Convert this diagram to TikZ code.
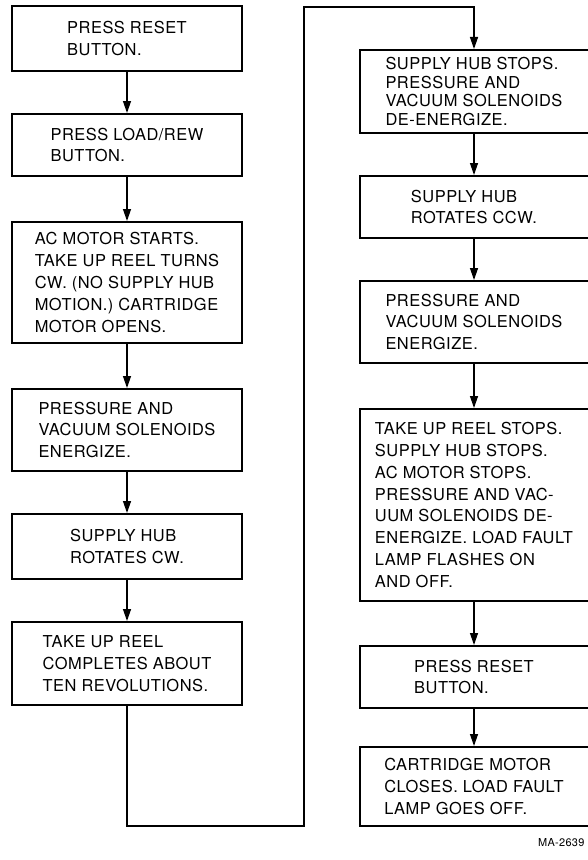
\documentclass[tikz,border=0pt]{standalone}
\usepackage{fontspec}
\setmainfont[LetterSpace=3]{TeX Gyre Heros}
\usetikzlibrary{arrows.meta}

\begin{document}
\begin{tikzpicture}[x=1bp,y=-1bp,
  stepbox/.style={draw,line width=2bp,minimum width=229bp,inner sep=0pt,align=left,font=\fontsize{16.5}{22}\selectfont},
  flow/.style={line width=1.3bp,-{Triangle[length=12bp,width=8bp]}}]
\useasboundingbox (0,0) rectangle (588,860);
\node[stepbox,minimum height=65bp] (l1) at (127,38.5) {PRESS RESET\\BUTTON.};
\node[stepbox,minimum height=62bp] (l2) at (127,145) {PRESS LOAD/REW\\BUTTON.};
\node[stepbox,minimum height=121bp] (l3) at (127,282.5) {AC MOTOR STARTS.\\TAKE UP REEL TURNS\\CW. (NO SUPPLY HUB\\MOTION.) CARTRIDGE\\MOTOR OPENS.};
\node[stepbox,minimum height=82bp] (l4) at (127,430) {PRESSURE AND\\VACUUM SOLENOIDS\\ENERGIZE.};
\node[stepbox,minimum height=65bp] (l5) at (127,546.5) {SUPPLY HUB\\ROTATES CW.};
\node[stepbox,minimum height=83bp] (l6) at (127,663.5) {TAKE UP REEL\\COMPLETES ABOUT\\TEN REVOLUTIONS.};
\node[stepbox,minimum height=83bp,font=\fontsize{16.5}{19}\selectfont] (r1) at (474,91.5) {SUPPLY HUB STOPS.\\PRESSURE AND\\VACUUM SOLENOIDS\\DE-ENERGIZE.};
\node[stepbox,minimum height=62bp] (r2) at (474,207) {SUPPLY HUB\\ROTATES CCW.};
\node[stepbox,minimum height=82bp] (r3) at (474,322) {PRESSURE AND\\VACUUM SOLENOIDS\\ENERGIZE.};
\node[stepbox,minimum height=192bp] (r4) at (474,505) {TAKE UP REEL STOPS.\\SUPPLY HUB STOPS.\\AC MOTOR STOPS.\\PRESSURE AND VAC-\\UUM SOLENOIDS DE-\\ENERGIZE. LOAD FAULT\\LAMP FLASHES ON\\AND OFF.};
\node[stepbox,minimum height=62bp] (r5) at (474,677) {PRESS RESET\\BUTTON.};
\node[stepbox,minimum height=79bp] (r6) at (474,786.5) {CARTRIDGE MOTOR\\CLOSES. LOAD FAULT\\LAMP GOES OFF.};
\node[anchor=east,font=\fontsize{11}{13}\selectfont] (tag) at (588,843) {MA-2639};
\coordinate (low) at (304,826);
\coordinate (high) at (304,7);
\draw[flow] (l1) -- (l2);
\draw[flow] (l2) -- (l3);
\draw[flow] (l3) -- (l4);
\draw[flow] (l4) -- (l5);
\draw[flow] (l5) -- (l6);
\draw[flow] (l6.south) |- (low) -- (high) -| (r1.north);
\draw[flow] (r1) -- (r2);
\draw[flow] (r2) -- (r3);
\draw[flow] (r3) -- (r4);
\draw[flow] (r4) -- (r5);
\draw[flow] (r5) -- (r6);
\end{tikzpicture}
\end{document}
